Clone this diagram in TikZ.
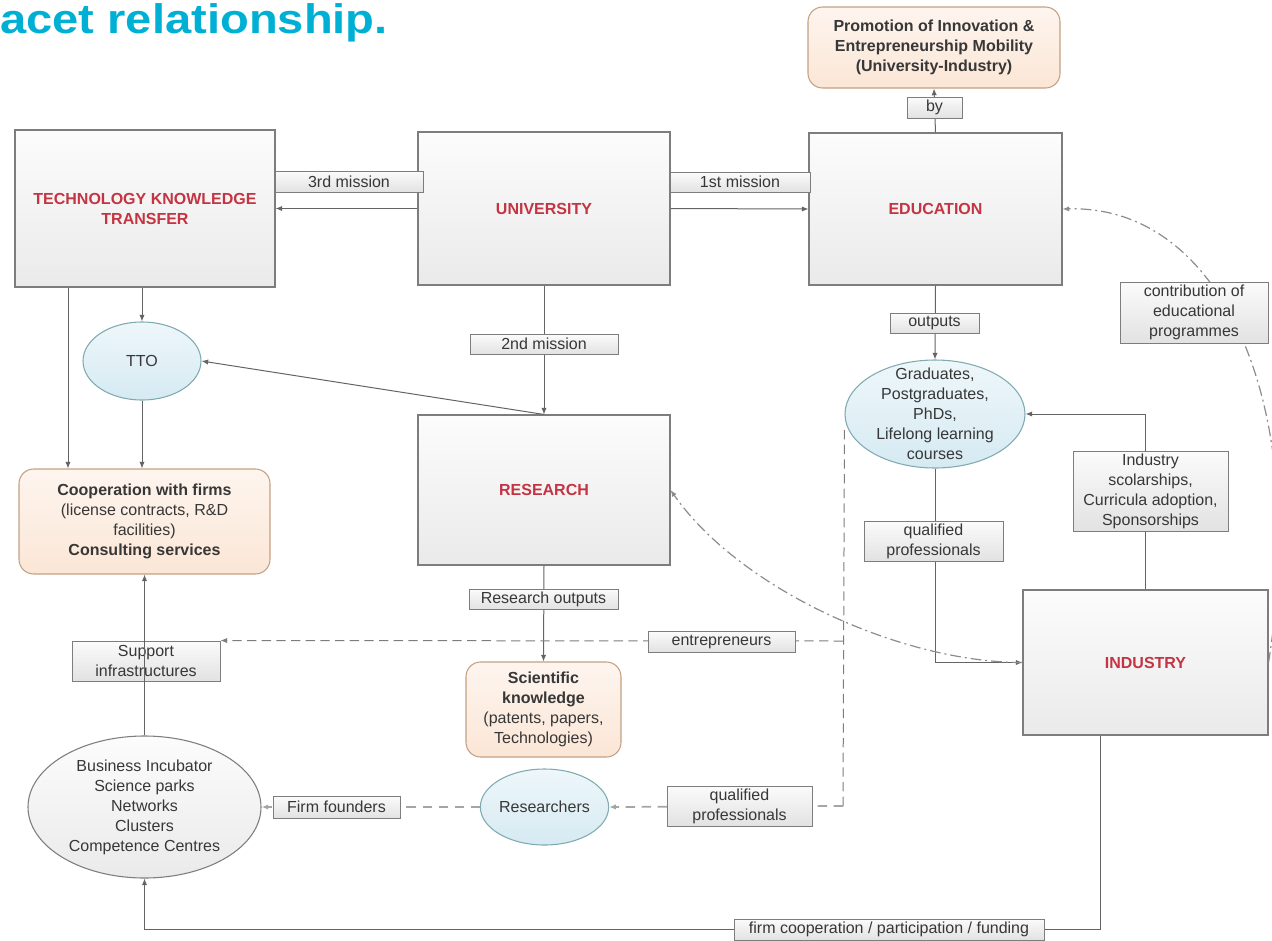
\documentclass[tikz,border=0pt]{standalone}
\usepackage{fontspec}
\setmainfont{Liberation Sans}
\usetikzlibrary{arrows.meta,shapes.geometric,calc}
\definecolor{titlecol}{RGB}{0,176,212}
\definecolor{ink}{RGB}{55,55,55}
\definecolor{redtxt}{RGB}{196,52,66}
\definecolor{edge}{RGB}{125,125,125}
\definecolor{wirecol}{RGB}{100,100,100}
\definecolor{boxtop}{RGB}{252,252,252}
\definecolor{boxbot}{RGB}{234,234,234}
\definecolor{tagtop}{RGB}{251,251,251}
\definecolor{tagbot}{RGB}{226,226,226}
\definecolor{orangetop}{RGB}{254,245,239}
\definecolor{orangebot}{RGB}{251,230,214}
\definecolor{orangeedge}{RGB}{196,160,130}
\definecolor{bluetop}{RGB}{238,247,250}
\definecolor{bluebot}{RGB}{214,234,242}
\definecolor{blueedge}{RGB}{128,170,178}
\definecolor{dashcol}{RGB}{125,125,125}
\definecolor{softdash}{RGB}{165,165,165}
\definecolor{ddotcol}{RGB}{140,140,140}
\begin{document}
\begin{tikzpicture}[x=0.75pt,y=-0.75pt,
  font=\fontsize{12}{15}\selectfont, text=ink,
  every node/.style={inner sep=0pt, align=center},
  sz/.style 2 args={minimum width=#1*0.75pt, minimum height=#2*0.75pt},
  bigbox/.style={draw=edge, line width=0.8pt, top color=boxtop, bottom color=boxbot,
    font=\fontsize{12}{15}\selectfont\bfseries, text=redtxt},
  tag/.style={draw=edge, line width=0.7pt, top color=tagtop, bottom color=tagbot},
  outcome/.style={draw=orangeedge, line width=0.8pt, rounded corners=11pt,
    top color=orangetop, bottom color=orangebot},
  bubble/.style={ellipse, draw=blueedge, line width=0.8pt, top color=bluetop, bottom color=bluebot},
  hub/.style={ellipse, draw=edge, line width=0.8pt, top color=boxtop, bottom color=boxbot},
  tip/.style={-{Latex[length=5pt,width=4pt]}},
  wire/.style={draw=wirecol, line width=0.75pt, tip},
  dline/.style={draw=dashcol, line width=0.75pt, dash pattern=on 7pt off 4pt},
  sdline/.style={draw=softdash, line width=1.3pt, dash pattern=on 7pt off 5pt},
  ddot/.style={draw=ddotcol, line width=0.9pt, dash pattern=on 8pt off 3pt on 1.5pt off 3pt}
]
\useasboundingbox (0,0) rectangle (1272,940);
\clip (0,0) rectangle (1272,940);

% heading
\node[anchor=base west, text=titlecol, font=\fontsize{31}{36}\selectfont\bfseries]
  (ttl) at (0,33) {\scalebox{1.14}[1]{acet relationship.}};

% main blocks
\node[bigbox, sz={260}{157}] (tkt) at (145,208.5) {TECHNOLOGY KNOWLEDGE\\TRANSFER};
\node[bigbox, sz={252}{153}] (uni) at (544,208.5) {UNIVERSITY};
\node[bigbox, sz={253}{152}] (edu) at (935.5,209) {EDUCATION};
\node[bigbox, sz={252}{150}] (res) at (544,490) {RESEARCH};
\node[bigbox, sz={245}{145}] (ind) at (1145.5,662.5) {INDUSTRY};

% outcomes
\node[outcome, sz={252}{81}, font=\fontsize{12}{15}\selectfont\bfseries] (promo) at (934,47.5)
  {Promotion of Innovation \&\\Entrepreneurship Mobility\\(University-Industry)};
\node[outcome, sz={251}{105}] (coop) at (144.5,521.5)
  {\textbf{Cooperation with firms}\\(license contracts, R\&D\\facilities)\\\textbf{Consulting services}};
\node[outcome, sz={155}{95}] (sci) at (543.5,709.5)
  {\textbf{Scientific}\\\textbf{knowledge}\\(patents, papers,\\Technologies)};

% actors
\node[bubble, sz={118}{78}] (tto) at (142,361) {TTO};
\node[bubble, sz={180}{108}, label={[align=center]center:Graduates,\\Postgraduates,\\PhDs,\\Lifelong learning\\courses}] (grad) at (935,414) {};
\node[bubble, sz={125}{76}] (rsr) at (544.5,807) {Researchers};
\node[hub, sz={233}{142}, label={[align=center]center:Business Incubator\\Science parks\\Networks\\Clusters\\Competence Centres}] (bi) at (144.5,807) {};

% solid flows
\draw[wire] (uni.west) -- (tkt.east);
\draw[wire] (uni.east) -- (edu.west);
\draw[wire] (edu.north) -- (promo.south);
\draw[wire] (edu.south) -- (grad.north);
\draw[wire] (uni.south) -- (res.north);
\draw[wire] (res.north) -- (tto.east);
\draw[wire] (tkt.south -| tto.north) -- (tto.north);
\coordinate (lx) at (68,0);
\draw[wire] (tkt.south -| lx) -- (coop.north -| lx);
\draw[wire] (tto.south) -- (coop.north -| tto.south);
\draw[wire] (res.south) -- (sci.north);
\draw[wire] (grad.south) |- (ind.west);
\draw[wire] (ind.north) |- (grad.east);
\coordinate (fx) at (1100,929);
\draw[wire] (fx |- ind.south) -- (fx) -| (bi.south);

% dashed flows
\coordinate (gj) at (843,806);
\coordinate (ej) at (843,641);
\draw[dline] (grad.west) ++(0,16) -- (gj);
\draw[sdline, tip] (gj) -- (rsr.east);
\draw[sdline, tip] (rsr.west) -- (bi.east);

% dash-dot feedback curves
\draw[ddot, tip] (ind.west) .. controls +(-120,0) and +(70,100) .. (res.east);
\draw[ddot, tip] (ind.east) .. controls (1310,400) and (1220,205) .. (edu.east);

% flow labels
\node[tag, sz={148}{21}] (l3) at (349,181.5) {3rd mission};
\node[tag, sz={140}{20}] (l1) at (740,182) {1st mission};
\node[tag, sz={55}{21}] (lby) at (934.5,107.5) {by};
\node[tag, sz={89}{20}] (lout) at (934.5,323) {outputs};
\node[tag, sz={148}{20}] (l2) at (544,344) {2nd mission};
\node[tag, sz={148}{61}] (lcon) at (1194,312.5) {contribution of\\educational\\programmes};
\node[tag, sz={155}{80}] (lind) at (1150.5,491) {Industry\\scolarships,\\Curricula adoption,\\Sponsorships};
\node[tag, sz={139}{40}] (lq1) at (933.5,541) {qualified\\professionals};
\node[tag, sz={149}{20}] (lro) at (543.5,599) {Research outputs};
\node[tag, sz={148}{40}] (lsup) at (146,661) {Support\\infrastructures};
\node[tag, sz={127}{22}] (lff) at (336.5,807) {Firm founders};
\node[tag, sz={145}{40}] (lq2) at (739.5,806) {qualified\\professionals};
\node[tag, sz={310}{21}] (lfund) at (889,929.5) {firm cooperation / participation / funding};

% entrepreneurs branch and support line
\draw[dline, tip] (ej) -- (lsup.north east);
\node[tag, sz={147}{21}] (lent) at (721.5,641.5) {entrepreneurs};
\draw[wire] (bi.north) -- (coop.south);
\end{tikzpicture}
\end{document}
